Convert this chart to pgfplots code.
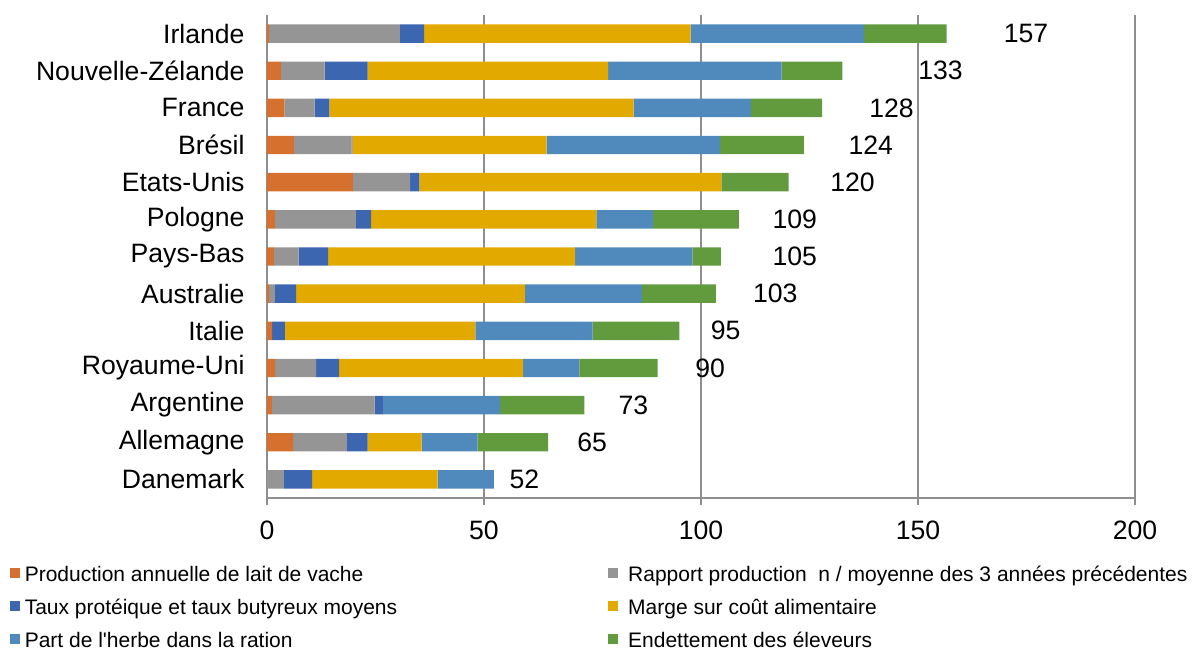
\documentclass[border=0pt]{standalone}
\usepackage{pgfplots}
\usepackage{pgfplotstable}
\pgfplotsset{compat=1.18}
\usepackage{fontspec}
\setmainfont{Liberation Sans}

\definecolor{cOrange}{HTML}{D5702E}
\definecolor{cGray}{HTML}{959595}
\definecolor{cDBlue}{HTML}{3C66B0}
\definecolor{cYellow}{HTML}{E2AA00}
\definecolor{cLBlue}{HTML}{508ABD}
\definecolor{cGreen}{HTML}{629B3E}
\definecolor{axgray}{HTML}{8E8E8E}

\newcommand{\lblfont}{\fontsize{13.3}{15}\selectfont}
\newcommand{\legfont}{\fontsize{10.5}{12}\selectfont}

% y = 12 for Irlande (top) down to 0 for Danemark (bottom)
\pgfplotstableread{
y  prod  rapp  taux  marge herbe dette
12 0.5   30.1  5.6   61.4  40    19.0
11 3.2   10.1  9.9   55.4  40    14.0
10 4.0   7.0   3.4   70.1  27    16.4
9  6.2   13.3  0.2   44.7  40    19.3
8  19.8  13.2  2.1   69.6  0     15.5
7  1.8   18.7  3.5   51.9  13    19.8
6  1.6   5.7   6.8   56.9  27    6.6
5  0.5   1.3   4.9   52.7  27    17.0
4  1.2   0     2.9   43.9  27    20.0
3  1.9   9.4   5.3   42.4  13    18.0
2  1.1   23.7  1.9   0     27    19.4
1  6.0   12.4  4.8   12.4  12.9  16.3
0  0     3.9   6.5   28.9  13    0
}\scores

\begin{document}
\begin{tikzpicture}
\path[use as bounding box] (-133.5pt,-76.5pt) rectangle (465pt,249pt);
\begin{axis}[
    at={(0,0)}, anchor=south west,
    scale only axis, width=434pt, height=241.5pt,
    xbar stacked, bar width=9.2pt,
    xmin=0, xmax=200, ymin=-0.5, ymax=12.5,
    axis x line*=bottom, axis y line*=left,
    axis line style={axgray, line width=1pt},
    xmajorgrids, grid style={axgray, line width=0.7pt},
    xtick={0,50,100,150,200},
    ytick={0,...,12},
    yticklabels={Danemark,Allemagne,Argentine,Royaume-Uni,Italie,Australie,Pays-Bas,Pologne,Etats-Unis,Brésil,France,Nouvelle-Zélande,Irlande},
    minor ytick={-0.5,0.5,...,12.5},
    tick align=outside,
    major tick length=3.5pt, minor tick length=3.5pt,
    tick style={axgray, line width=0.8pt},
    ytick style={draw=none},
    minor tick style={axgray, line width=0.8pt},
    /pgf/number format/assume math mode=true,
    ticklabel style={font=\lblfont},
    yticklabel style={xshift=-4.2pt},
    xticklabel style={yshift=-4.2pt},
    clip=false,
    legend columns=2,
    legend cell align=left,
    legend image code/.code={\fill[#1] (0pt,-1pt) rectangle (5pt,4pt);},
    legend style={
        at={(-0.2961,-0.1398)}, anchor=north west,
        draw=none, fill=none, inner sep=0pt, font=\legfont,
        nodes={inner sep=0pt, text height=8pt, text depth=2.2pt},
        row sep=6.3pt,
        /tikz/every odd column/.append style={column sep=2.2pt},
    },
]
\addplot[fill=cOrange, draw=none] table[x=prod, y=y] {\scores};
\addlegendentry{\makebox[291.5pt][l]{Production annuelle de lait de vache}}
\addplot[fill=cGray, draw=none] table[x=rapp, y=y] {\scores};
\addlegendentry{\hspace*{3pt}Rapport production\ \ n / moyenne des 3 années précédentes}
\addplot[fill=cDBlue, draw=none] table[x=taux, y=y] {\scores};
\addlegendentry{\makebox[291.5pt][l]{Taux protéique et taux butyreux moyens}}
\addplot[fill=cYellow, draw=none] table[x=marge, y=y] {\scores};
\addlegendentry{\hspace*{3pt}Marge sur coût alimentaire}
\addplot[fill=cLBlue, draw=none] table[x=herbe, y=y] {\scores};
\addlegendentry{\makebox[291.5pt][l]{Part de l\textquotesingle herbe dans la ration}}
\addplot[fill=cGreen, draw=none] table[x=dette, y=y] {\scores};
\addlegendentry{\hspace*{3pt}Endettement des éleveurs}

% totals
\node[font=\lblfont] at (axis cs:174.9,12) {157};
\node[font=\lblfont] at (axis cs:155.2,11) {133};
\node[font=\lblfont] at (axis cs:143.9,10) {128};
\node[font=\lblfont] at (axis cs:139.1,9) {124};
\node[font=\lblfont] at (axis cs:134.9,8) {120};
\node[font=\lblfont] at (axis cs:121.6,7) {109};
\node[font=\lblfont] at (axis cs:121.6,6) {105};
\node[font=\lblfont] at (axis cs:117.1,5) {103};
\node[font=\lblfont] at (axis cs:105.7,4) {95};
\node[font=\lblfont] at (axis cs:102.1,3) {90};
\node[font=\lblfont] at (axis cs:84.4,2) {73};
\node[font=\lblfont] at (axis cs:74.9,1) {65};
\node[font=\lblfont] at (axis cs:59.3,0) {52};
\end{axis}
\end{tikzpicture}
\end{document}
